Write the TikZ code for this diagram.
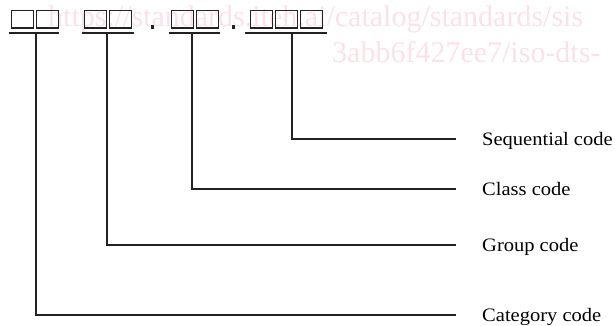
\documentclass[tikz,border=0pt]{standalone}
\usepackage{fontspec}
\setmainfont{Liberation Serif}
\newfontfamily\labelfont[FakeStretch=1.08]{Liberation Serif}
\definecolor{ink}{RGB}{34,34,34}
\definecolor{wmpink}{RGB}{251,226,233}
\begin{document}
\begin{tikzpicture}[x=1pt,y=-1pt,
  cell/.style={draw=ink, line width=1.6pt, minimum width=22pt, minimum height=17.5pt,
               inner sep=0pt, anchor=north west},
  bar/.style={draw=ink, line width=1.9pt},
  leader/.style={draw=ink, line width=1.6pt},
  lab/.style={anchor=west, inner sep=0pt, text height=12.5pt, text depth=0pt,
              font=\labelfont\fontsize{19}{23}\selectfont, text=black},
  wm/.style={anchor=base west, inner sep=0pt, text=wmpink,
             font=\fontsize{30}{36}\selectfont}]
  \clip (0,0) rectangle (615,326);
  \fill[white] (0,0) rectangle (615,326);

  % faint URL stamp behind the figure
  \node[wm] (wm1) at (48,27) {https://standards.iteh.ai/catalog/standards/sis};
  \node[wm] (wm2) at (332,63) {3abb6f427ee7/iso-dts-};

  % code positions: category, group, class, sequential
  \foreach \x/\n in {10.8/a1,35.8/a2,83.8/b1,108.8/b2,170.8/c1,195.8/c2,249.8/d1,274.8/d2,299.8/d3}
    \node[cell] (\n) at (\x,9.8) {};

  % separating points
  \fill[ink] (150.5,25.5) rectangle +(3.2,3.2);
  \fill[ink] (231.5,25.5) rectangle +(3.2,3.2);

  % underlines below each code part
  \draw[bar] (9,33) -- (59,33);
  \draw[bar] (82,33) -- (134,33);
  \draw[bar] (169,33) -- (220,33);
  \draw[bar] (245,33) -- (327,33);

  \coordinate (catstem) at (36,33);
  \coordinate (grpstem) at (107,33);
  \coordinate (clsstem) at (192,33);
  \coordinate (seqstem) at (292,33);

  % labels
  \node[lab] (seq) at (482,139) {Sequential code};
  \node[lab] (cls) at (482,189) {Class code};
  \node[lab] (grp) at (482,245) {Group code};
  \node[lab] (cat) at (482,315) {Category code};

  % leaders from each code part to its label
  \draw[leader] (seqstem) |- ([xshift=-26pt]seq.west);
  \draw[leader] (clsstem) |- ([xshift=-26pt]cls.west);
  \draw[leader] (grpstem) |- ([xshift=-26pt]grp.west);
  \draw[leader] (catstem) |- ([xshift=-26pt]cat.west);
\end{tikzpicture}
\end{document}
